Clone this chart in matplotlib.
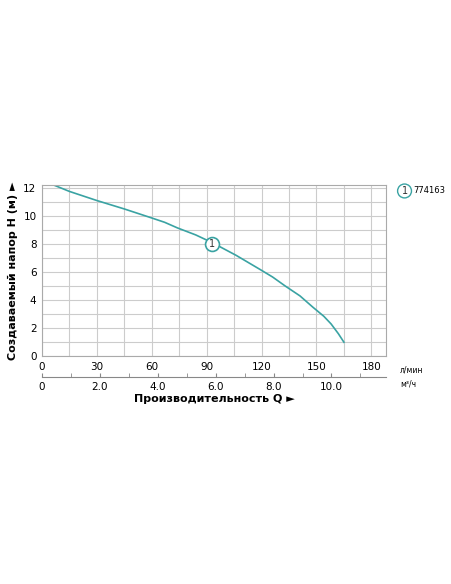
import numpy as np
import matplotlib
matplotlib.use("Agg")
import matplotlib.pyplot as plt

q_lmin = [6.5, 15, 30, 45, 59, 67, 74, 84, 93, 106, 119, 126, 133, 141, 148, 154, 158, 162, 165]
head_m = [12.2, 11.75, 11.1, 10.5, 9.9, 9.55, 9.15, 8.65, 8.1, 7.2, 6.2, 5.65, 5.0, 4.3, 3.5, 2.85, 2.3, 1.6, 1.0]
x_ticks = [0, 30, 60, 90, 120, 150, 180]
m3_ticks = [0, 2.0, 4.0, 6.0, 8.0, 10.0]
model = "774163"
teal = "#3aa3a3"

fig = plt.figure(figsize=(4.52, 5.84), dpi=100)
ax = fig.add_axes([0.093, 0.39, 0.761, 0.293])
ax.plot(q_lmin, head_m, color=teal, lw=1.2)
ax.plot(93, 8.0, "o", ms=10, mfc="white", mec=teal, mew=1.2)
ax.text(93, 8.0, "1", ha="center", va="center", fontsize=7, color="#333")
ax.set_xlim(0, 188)
ax.set_ylim(0, 12.2)
ax.set_xticks(np.arange(0, 181, 15), minor=True)
ax.set_xticks(x_ticks)
ax.set_yticks(np.arange(0, 13, 1), minor=True)
ax.set_yticks(range(0, 13, 2))
ax.grid(True, which="both", color="#cccccc", lw=0.8)
ax.tick_params(which="both", length=0, labelsize=7.5, pad=4)
for s in ax.spines.values():
    s.set_color("#aaaaaa")
ax.set_ylabel("Создаваемый напор H (м) ►", fontsize=8, fontweight="bold")
fig.text(0.885, 0.366, "л/мин", fontsize=5.5, va="center")
fig.text(0.885, 0.343, "м³/ч", fontsize=5.5, va="center")

ax2 = fig.add_axes([0.093, 0.355, 0.761, 0.0])
scale = 55 / 30 * 16.667 / 29
ax2.set_xlim(0, 188 / 16.667 * scale)
ax2.set_xticks(m3_ticks)
ax2.set_xticklabels(["0", "2.0", "4.0", "6.0", "8.0", "10.0"])
ax2.set_xticks(np.arange(0, 12, 1), minor=True)
ax2.set_yticks([])
for k in ["top", "left", "right"]:
    ax2.spines[k].set_visible(False)
ax2.spines["bottom"].set_color("#888888")
ax2.tick_params(which="both", direction="in", length=3, labelsize=7.5, color="#888888")
ax2.set_xlabel("Производительность Q ►", fontsize=8, fontweight="bold", labelpad=2)

fig.text(0.895, 0.673, "1", ha="center", va="center", fontsize=7, color="#333",
         bbox=dict(boxstyle="circle,pad=0.2", fc="white", ec=teal, lw=1))
fig.text(0.915, 0.673, model, va="center", fontsize=6)
fig.savefig("out.png", dpi=100)
